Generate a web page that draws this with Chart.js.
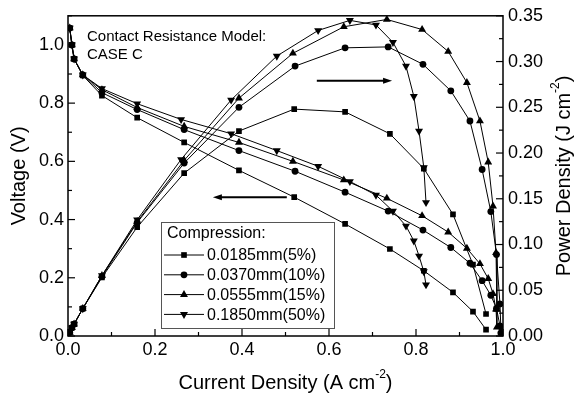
<!DOCTYPE html>
<html><head><meta charset="utf-8">
<script src="https://cdn.jsdelivr.net/npm/chart.js@4"></script>
<style>html,body{margin:0;padding:0;background:#fff}</style>
</head><body>
<canvas id="c" width="577" height="397"></canvas>
<script>
// ---- data ----
const seriesNames = ['0.0185mm(5%)', '0.0370mm(10%)', '0.0555mm(15%)', '0.1850mm(50%)'];

const j5  = [0.004,0.009,0.014,0.034,0.078,0.159,0.267,0.393,0.520,0.637,0.740,0.818,0.885,0.931,0.961];
const v5  = [1.058,1.000,0.952,0.895,0.826,0.750,0.665,0.569,0.477,0.385,0.299,0.224,0.150,0.084,0.022];
const p5  = [0.004,0.009,0.013,0.030,0.064,0.119,0.178,0.224,0.248,0.245,0.221,0.183,0.133,0.078,0.024];

const j10 = [0.004,0.009,0.014,0.034,0.078,0.159,0.267,0.393,0.522,0.637,0.736,0.816,0.880,0.924,0.952,0.972,0.985,0.993,0.995];
const v10 = [1.058,1.000,0.952,0.897,0.836,0.778,0.709,0.637,0.566,0.494,0.429,0.364,0.304,0.250,0.190,0.140,0.095,0.035,0.010];
const p10 = [0.004,0.009,0.013,0.030,0.065,0.124,0.189,0.250,0.295,0.315,0.316,0.297,0.268,0.235,0.182,0.136,0.089,0.035,0.010];

const j15 = [0.004,0.009,0.014,0.034,0.078,0.159,0.267,0.393,0.517,0.634,0.733,0.814,0.874,0.917,0.947,0.966,0.977,0.984,0.986];
const v15 = [1.058,1.000,0.952,0.897,0.846,0.785,0.720,0.665,0.600,0.536,0.473,0.413,0.357,0.301,0.248,0.197,0.145,0.092,0.030];
const p15 = [0.004,0.009,0.013,0.030,0.066,0.125,0.192,0.260,0.309,0.338,0.346,0.335,0.311,0.277,0.235,0.190,0.142,0.091,0.029];

const j50 = [0.004,0.009,0.014,0.034,0.078,0.159,0.260,0.375,0.480,0.575,0.648,0.708,0.747,0.777,0.795,0.807,0.818,0.823];
const v50 = [1.058,1.000,0.952,0.897,0.850,0.798,0.744,0.695,0.637,0.583,0.531,0.484,0.429,0.378,0.327,0.275,0.221,0.176];
const p50 = [0.004,0.009,0.013,0.030,0.066,0.127,0.193,0.258,0.306,0.334,0.345,0.340,0.321,0.295,0.262,0.224,0.184,0.146];

const xTicks  = [0.0, 0.2, 0.4, 0.6, 0.8, 1.0];
const xMinor  = [0.1, 0.3, 0.5, 0.7, 0.9];
const vTicks  = [0.0, 0.2, 0.4, 0.6, 0.8, 1.0];
const vMinor  = [0.1, 0.3, 0.5, 0.7, 0.9, 1.1];
const pTicks  = [0.00, 0.05, 0.10, 0.15, 0.20, 0.25, 0.30, 0.35];
const pMinor  = [0.025, 0.075, 0.125, 0.175, 0.225, 0.275, 0.325];

// ---- build ----
const FONT = '"Liberation Sans", Arial, Helvetica, sans-serif';
const styles = [
  {pointStyle: 'rect', r: 4.0, rot: 0},
  {pointStyle: 'circle', r: 3.4, rot: 0},
  {pointStyle: 'triangle', r: 4.6, rot: 0},
  {pointStyle: 'triangle', r: 4.6, rot: 180}
];
const J = [j5, j10, j15, j50], V = [v5, v10, v15, v50], P = [p5, p10, p15, p50];
const pts = (xs, ys) => xs.map((x, i) => ({x, y: ys[i]}));

const datasets = [];
for (let k = 0; k < 4; k++) {
  const s = styles[k];
  const base = {
    showLine: true, borderColor: '#000', backgroundColor: '#000', borderWidth: 1,
    pointStyle: s.pointStyle, pointRadius: s.r, pointRotation: s.rot,
    pointBorderWidth: 0, pointBackgroundColor: '#000', pointHoverRadius: s.r
  };
  datasets.push(Object.assign({label: seriesNames[k] + ' V', yAxisID: 'y', data: pts(J[k], V[k])}, base));
  datasets.push(Object.assign({label: seriesNames[k] + ' P', yAxisID: 'y1', data: pts(J[k], P[k])}, base));
}

function drawMarker(ctx, style, x, y, r, rot) {
  ctx.beginPath();
  if (style === 'rect') {
    const s = Math.SQRT1_2 * r;
    ctx.rect(x - s, y - s, 2 * s, 2 * s);
  } else if (style === 'circle') {
    ctx.arc(x, y, r, 0, Math.PI * 2);
  } else {
    let rad = rot * Math.PI / 180;
    for (let i = 0; i < 3; i++) {
      const px = x + Math.sin(rad) * r, py = y - Math.cos(rad) * r;
      if (i === 0) ctx.moveTo(px, py); else ctx.lineTo(px, py);
      rad += 2 * Math.PI / 3;
    }
    ctx.closePath();
  }
  ctx.fill();
}

function line(ctx, x1, y1, x2, y2) { ctx.beginPath(); ctx.moveTo(x1, y1); ctx.lineTo(x2, y2); ctx.stroke(); }

function arrow(ctx, x1, y, x2) {
  const dir = Math.sign(x2 - x1);
  ctx.lineWidth = 2;
  line(ctx, x1, y, x2 - dir * 8, y);
  ctx.beginPath();
  ctx.moveTo(x2, y);
  ctx.lineTo(x2 - dir * 9, y - 3);
  ctx.lineTo(x2 - dir * 9, y + 3);
  ctx.closePath();
  ctx.fill();
}

const decor = {
  id: 'decor',
  afterDraw(chart) {
    const {ctx, chartArea: a, scales: {x, y, y1}} = chart;
    ctx.save();
    ctx.strokeStyle = '#000'; ctx.fillStyle = '#000';
    // frame
    ctx.lineWidth = 1.5;
    ctx.strokeRect(a.left, a.top, a.right - a.left, a.bottom - a.top);
    // inward ticks
    ctx.lineWidth = 1.2;
    xTicks.forEach(v => { const p = x.getPixelForValue(v); line(ctx, p, a.bottom, p, a.bottom - 7); });
    xMinor.forEach(v => { const p = x.getPixelForValue(v); line(ctx, p, a.bottom, p, a.bottom - 4); });
    vTicks.forEach(v => { const p = y.getPixelForValue(v); line(ctx, a.left, p, a.left + 7, p); });
    vMinor.forEach(v => { const p = y.getPixelForValue(v); line(ctx, a.left, p, a.left + 4, p); });
    pTicks.forEach(v => { const p = y1.getPixelForValue(v); line(ctx, a.right, p, a.right - 7, p); });
    pMinor.forEach(v => { const p = y1.getPixelForValue(v); line(ctx, a.right, p, a.right - 4, p); });

    // axis titles
    const big = '20px ' + FONT, sup = '12px ' + FONT;
    ctx.textBaseline = 'alphabetic';
    // x title
    {
      ctx.font = big;
      const t1 = 'Current Density (A cm', t3 = ')';
      const w1 = ctx.measureText(t1).width, w3 = ctx.measureText(t3).width;
      ctx.font = sup; const w2 = ctx.measureText('-2').width;
      const cx = (a.left + a.right) / 2, tot = w1 + w2 + w3;
      let sx = cx - tot / 2, by = 389;
      ctx.textAlign = 'left';
      ctx.font = big; ctx.fillText(t1, sx, by);
      ctx.font = sup; ctx.fillText('-2', sx + w1, by - 11);
      ctx.font = big; ctx.fillText(t3, sx + w1 + w2, by);
    }
    // left title
    ctx.save();
    ctx.translate(25, (a.top + a.bottom) / 2);
    ctx.rotate(-Math.PI / 2);
    ctx.font = big; ctx.textAlign = 'center';
    ctx.fillText('Voltage (V)', 0, 0);
    ctx.restore();
    // right title
    ctx.save();
    ctx.translate(570, (a.top + a.bottom) / 2);
    ctx.rotate(-Math.PI / 2);
    {
      ctx.font = big;
      const t1 = 'Power Density (J cm', t3 = ')';
      const w1 = ctx.measureText(t1).width, w3 = ctx.measureText(t3).width;
      ctx.font = sup; const w2 = ctx.measureText('-2').width;
      const tot = w1 + w2 + w3; let sx = -tot / 2;
      ctx.textAlign = 'left';
      ctx.font = big; ctx.fillText(t1, sx, 0);
      ctx.font = sup; ctx.fillText('-2', sx + w1, -11);
      ctx.font = big; ctx.fillText(t3, sx + w1 + w2, 0);
    }
    ctx.restore();

    // annotation
    ctx.font = '15px ' + FONT; ctx.textAlign = 'left';
    ctx.fillText('Contact Resistance Model:', a.left + 19, a.top + 25);
    ctx.fillText('CASE C', a.left + 19, a.top + 43);

    // arrows (positioned through the scales)
    arrow(ctx, x.getPixelForValue(0.572), y1.getPixelForValue(0.279), x.getPixelForValue(0.745));
    arrow(ctx, x.getPixelForValue(0.503), y.getPixelForValue(0.477), x.getPixelForValue(0.333));

    // legend
    const L = 161, T = 222, R = 334, B = 328;
    ctx.fillStyle = '#fff'; ctx.fillRect(L, T, R - L, B - T);
    ctx.fillStyle = '#000';
    ctx.lineWidth = 1; ctx.strokeStyle = '#555';
    ctx.strokeRect(L + 0.5, T + 0.5, R - L, B - T);
    ctx.strokeStyle = '#000';
    ctx.font = '16px ' + FONT; ctx.textBaseline = 'middle';
    ctx.fillText('Compression:', L + 6, T + 12);
    for (let k = 0; k < 4; k++) {
      const yy = T + 33 + k * 19.8;
      ctx.lineWidth = 1;
      line(ctx, L + 3, yy, L + 43, yy);
      drawMarker(ctx, styles[k].pointStyle, L + 23, yy, styles[k].r, styles[k].rot);
      ctx.fillText(seriesNames[k], L + 46, yy + 1);
    }
    ctx.restore();
  }
};

Chart.defaults.font.family = FONT;
Chart.defaults.color = '#000';

const tickFmt = d => (v => Number(v).toFixed(d));

new Chart(document.getElementById('c'), {
  type: 'scatter',
  data: {datasets},
  options: {
    responsive: false, animation: false,
    layout: {padding: {top: 13, left: 0, right: 0, bottom: 0}},
    plugins: {legend: {display: false}, tooltip: {enabled: false}},
    scales: {
      x: {
        type: 'linear', min: 0, max: 1.0,
        afterBuildTicks: s => { s.ticks = xTicks.map(v => ({value: v})); },
        afterFit: s => { s.height = 61; },
        grid: {display: false, drawTicks: false},
        border: {display: false},
        ticks: {font: {size: 18}, padding: 3, callback: tickFmt(1), maxRotation: 0, autoSkip: false}
      },
      y: {
        type: 'linear', position: 'left', min: 0, max: 1.1,
        afterBuildTicks: s => { s.ticks = vTicks.map(v => ({value: v})); },
        afterFit: s => { s.width = 68; },
        grid: {display: false, drawTicks: false},
        border: {display: false},
        ticks: {font: {size: 18}, padding: 4, callback: tickFmt(1), autoSkip: false}
      },
      y1: {
        type: 'linear', position: 'right', min: 0, max: 0.35,
        afterBuildTicks: s => { s.ticks = pTicks.map(v => ({value: v})); },
        afterFit: s => { s.width = 74; },
        grid: {display: false, drawTicks: false},
        border: {display: false},
        ticks: {font: {size: 18}, padding: 5, callback: tickFmt(2), autoSkip: false}
      }
    }
  },
  plugins: [decor]
});
</script>
</body></html>
